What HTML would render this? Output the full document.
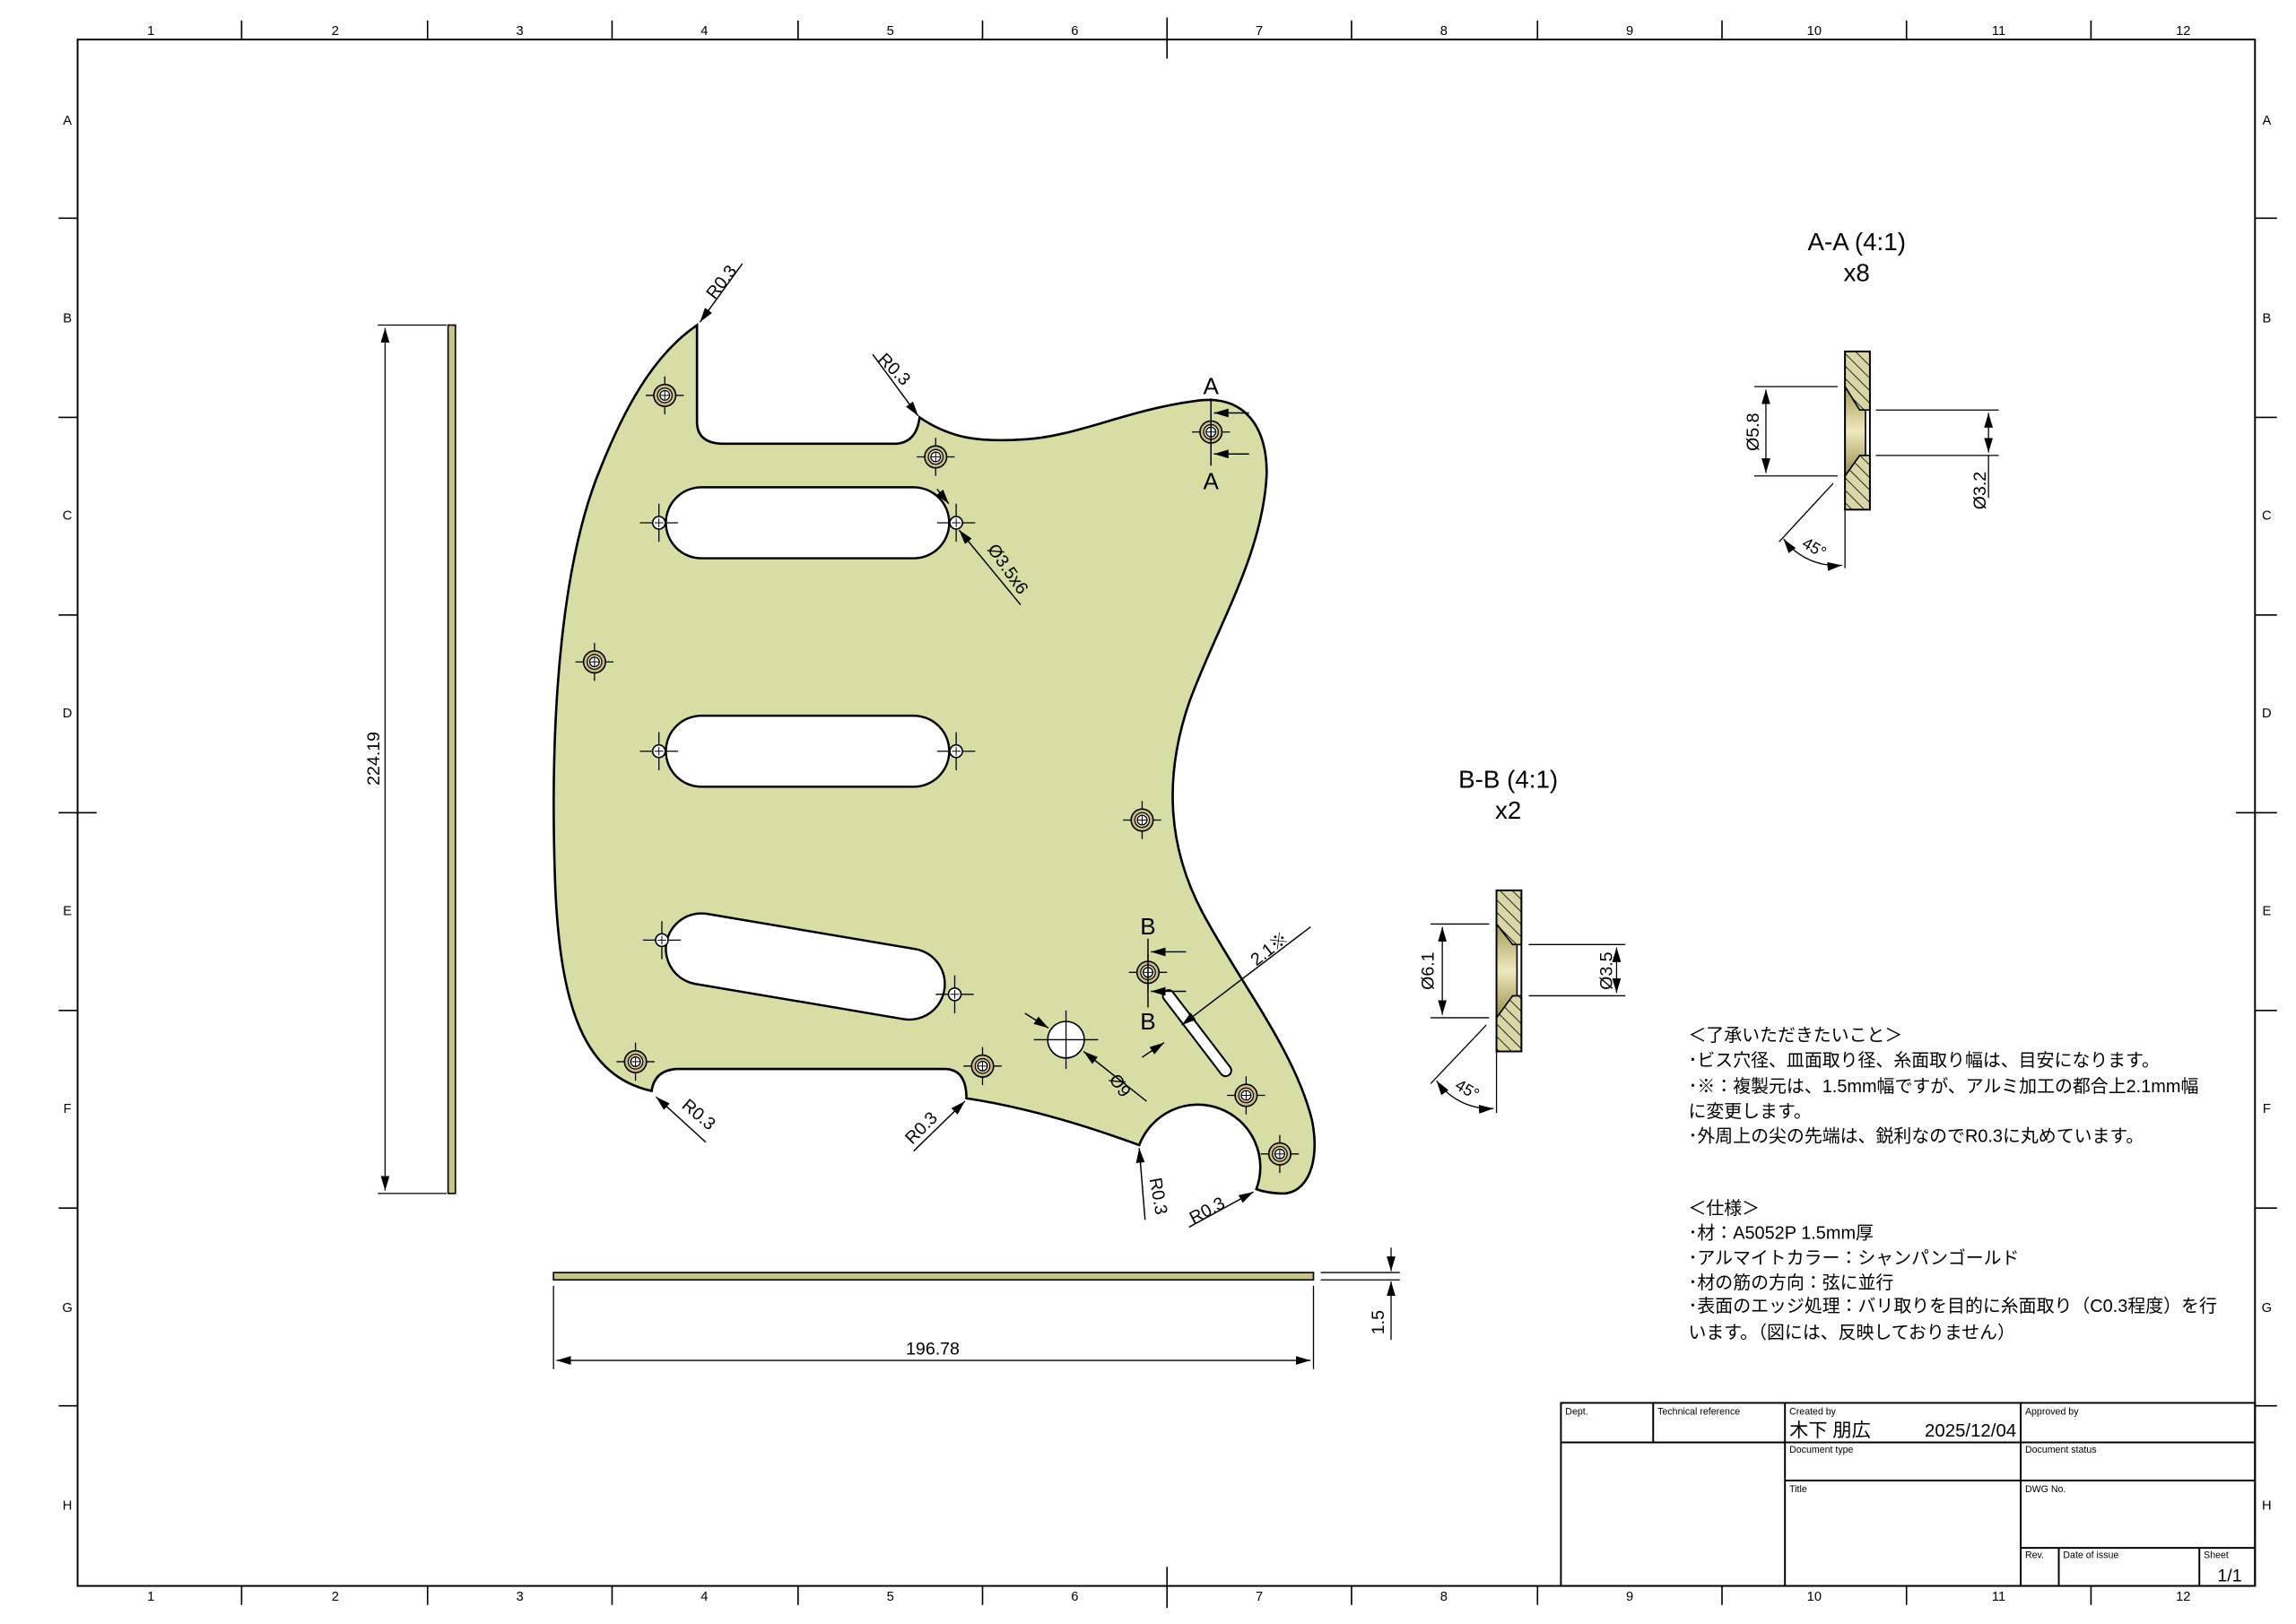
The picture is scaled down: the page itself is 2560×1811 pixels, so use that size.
<!DOCTYPE html>
<html><head><meta charset="utf-8"><style>
html,body{margin:0;padding:0;background:#fff;}
svg{display:block;}
text{font-family:"Liberation Sans","Noto Sans CJK JP",sans-serif;fill:#000;}
</style></head><body>
<svg width="2560" height="1811" viewBox="0 0 1568 1109" preserveAspectRatio="none" xmlns="http://www.w3.org/2000/svg">
<defs>
<pattern id="hat" patternUnits="userSpaceOnUse" width="6" height="6" patternTransform="rotate(-45)">
<rect width="6" height="6" fill="#d9d6a8"/><line x1="0" y1="0" x2="0" y2="6" stroke="#000" stroke-width="1"/></pattern>
<linearGradient id="gold" x1="0" y1="0" x2="0" y2="1"><stop offset="0" stop-color="#a89a55"/><stop offset="0.5" stop-color="#eeeac0"/><stop offset="1" stop-color="#9a8c48"/></linearGradient>
<marker id="ar" markerWidth="10" markerHeight="6" refX="10" refY="3" orient="auto-start-reverse" markerUnits="userSpaceOnUse"><path d="M0,0 L10,3 L0,6 z" fill="#000"/></marker>
<g id="mh"><line x1="-13" y1="0" x2="13" y2="0" stroke="#000" stroke-width="0.8"/><line x1="0" y1="-13" x2="0" y2="13" stroke="#000" stroke-width="0.8"/><circle r="7.5" fill="#cbbd80" stroke="#000" stroke-width="1"/><circle r="5" fill="#ece6c0" stroke="#000" stroke-width="0.8"/><circle r="3.3" fill="#fff" stroke="#000" stroke-width="0.8"/><line x1="-3" y1="0" x2="3" y2="0" stroke="#000" stroke-width="0.6"/><line x1="0" y1="-3" x2="0" y2="3" stroke="#000" stroke-width="0.6"/></g>
<g id="sh"><line x1="-13" y1="0" x2="13" y2="0" stroke="#000" stroke-width="0.8"/><line x1="0" y1="-13" x2="0" y2="13" stroke="#000" stroke-width="0.8"/><circle r="4.3" fill="#fff" stroke="#000" stroke-width="1"/><line x1="-3" y1="0" x2="3" y2="0" stroke="#000" stroke-width="0.6"/><line x1="0" y1="-3" x2="0" y2="3" stroke="#000" stroke-width="0.6"/></g>
</defs>

<rect x="53" y="27" width="1487" height="1056" fill="none" stroke="#000" stroke-width="1.2"/>
<g stroke="#000" stroke-width="1">
<line x1="165" y1="14" x2="165" y2="27"/><line x1="292" y1="14" x2="292" y2="27"/><line x1="418" y1="14" x2="418" y2="27"/><line x1="545" y1="14" x2="545" y2="27"/><line x1="671" y1="14" x2="671" y2="27"/><line x1="797" y1="12" x2="797" y2="40"/><line x1="923" y1="14" x2="923" y2="27"/><line x1="1050" y1="14" x2="1050" y2="27"/><line x1="1176" y1="14" x2="1176" y2="27"/><line x1="1302" y1="14" x2="1302" y2="27"/><line x1="1428" y1="14" x2="1428" y2="27"/>
<line x1="165" y1="1083" x2="165" y2="1096"/><line x1="292" y1="1083" x2="292" y2="1096"/><line x1="418" y1="1083" x2="418" y2="1096"/><line x1="545" y1="1083" x2="545" y2="1096"/><line x1="671" y1="1083" x2="671" y2="1096"/><line x1="797" y1="1070" x2="797" y2="1098"/><line x1="923" y1="1083" x2="923" y2="1096"/><line x1="1050" y1="1083" x2="1050" y2="1096"/><line x1="1176" y1="1083" x2="1176" y2="1096"/><line x1="1302" y1="1083" x2="1302" y2="1096"/><line x1="1428" y1="1083" x2="1428" y2="1096"/>
<line x1="40" y1="149" x2="53" y2="149"/><line x1="40" y1="285" x2="53" y2="285"/><line x1="40" y1="420" x2="53" y2="420"/><line x1="40" y1="555" x2="66" y2="555"/><line x1="40" y1="690" x2="53" y2="690"/><line x1="40" y1="825" x2="53" y2="825"/><line x1="40" y1="960" x2="53" y2="960"/>
<line x1="1540" y1="149" x2="1555" y2="149"/><line x1="1540" y1="285" x2="1555" y2="285"/><line x1="1540" y1="420" x2="1555" y2="420"/><line x1="1527" y1="555" x2="1555" y2="555"/><line x1="1540" y1="690" x2="1555" y2="690"/><line x1="1540" y1="825" x2="1555" y2="825"/><line x1="1540" y1="960" x2="1555" y2="960"/>
</g>
<g font-size="9" text-anchor="middle">
<text x="103" y="24">1</text><text x="229" y="24">2</text><text x="355" y="24">3</text><text x="481" y="24">4</text><text x="608" y="24">5</text><text x="734" y="24">6</text><text x="860" y="24">7</text><text x="986" y="24">8</text><text x="1113" y="24">9</text><text x="1239" y="24">10</text><text x="1365" y="24">11</text><text x="1491" y="24">12</text>
<text x="103" y="1093">1</text><text x="229" y="1093">2</text><text x="355" y="1093">3</text><text x="481" y="1093">4</text><text x="608" y="1093">5</text><text x="734" y="1093">6</text><text x="860" y="1093">7</text><text x="986" y="1093">8</text><text x="1113" y="1093">9</text><text x="1239" y="1093">10</text><text x="1365" y="1093">11</text><text x="1491" y="1093">12</text>
<text x="46" y="85">A</text><text x="46" y="220">B</text><text x="46" y="355">C</text><text x="46" y="490">D</text><text x="46" y="625">E</text><text x="46" y="760">F</text><text x="46" y="896">G</text><text x="46" y="1031">H</text>
<text x="1548" y="85">A</text><text x="1548" y="220">B</text><text x="1548" y="355">C</text><text x="1548" y="490">D</text><text x="1548" y="625">E</text><text x="1548" y="760">F</text><text x="1548" y="896">G</text><text x="1548" y="1031">H</text>
</g>

<path d="M476,222 L476,288 Q476,302 492,303 L612,303 Q626,302 628,285 C650,300 670,302 700,300 C735,298 770,280 815,274 C850,268 866,292 865,325 C862,380 830,430 812,480 C795,530 796,580 825,630 C850,675 885,720 896,765 C902,795 892,815 876,815 C865,815 858,812 858,812 A42,42 0 0 0 778,782 C740,768 700,756 660,750 Q660,730 645,730 L462,730 Q447,731 445,745 C400,735 382,690 379,600 C375,480 385,380 410,320 C430,270 450,240 476,222 Z" fill="#d6dea6" stroke="#000" stroke-width="1.6"/>
<g stroke-linecap="round">
<line x1="479" y1="357" x2="624" y2="357" stroke="#000" stroke-width="50"/><line x1="479" y1="357" x2="624" y2="357" stroke="#fff" stroke-width="47"/>
<line x1="479" y1="513" x2="624" y2="513" stroke="#000" stroke-width="50"/><line x1="479" y1="513" x2="624" y2="513" stroke="#fff" stroke-width="47"/>
<line x1="479" y1="648" x2="621" y2="672" stroke="#000" stroke-width="50"/><line x1="479" y1="648" x2="621" y2="672" stroke="#fff" stroke-width="47"/>
<line x1="798" y1="680" x2="837" y2="731" stroke="#000" stroke-width="9"/><line x1="798" y1="680" x2="837" y2="731" stroke="#fff" stroke-width="6.5"/>
</g>
<use href="#sh" x="450" y="357"/><use href="#sh" x="653" y="357"/><use href="#sh" x="450" y="513"/><use href="#sh" x="653" y="513"/><use href="#sh" x="452" y="642"/><use href="#sh" x="652" y="679"/>
<use href="#mh" x="454" y="270"/><use href="#mh" x="639" y="312"/><use href="#mh" x="827" y="295"/><use href="#mh" x="406" y="452"/><use href="#mh" x="780" y="560"/><use href="#mh" x="784" y="664"/><use href="#mh" x="434" y="725"/><use href="#mh" x="671" y="728"/><use href="#mh" x="851" y="748"/><use href="#mh" x="874" y="788"/>
<circle cx="728" cy="710" r="12.5" fill="#fff" stroke="#000" stroke-width="1"/>
<g stroke="#000" stroke-width="0.8"><line x1="706" y1="710" x2="750" y2="710"/><line x1="728" y1="690" x2="728" y2="730"/></g>

<g stroke="#000" stroke-width="0.9" fill="none">
<line x1="507" y1="180" x2="478" y2="220" marker-end="url(#ar)"/>
<line x1="596" y1="242" x2="627" y2="284" marker-end="url(#ar)"/>
<line x1="697" y1="413" x2="655" y2="362" marker-end="url(#ar)"/>
<line x1="640" y1="334" x2="648" y2="344" marker-end="url(#ar)"/>
<line x1="783" y1="752" x2="740" y2="718" marker-end="url(#ar)"/>
<line x1="700" y1="692" x2="716" y2="702" marker-end="url(#ar)"/>
<line x1="895" y1="633" x2="807" y2="700" marker-end="url(#ar)"/>
<line x1="780" y1="722" x2="795" y2="712" marker-end="url(#ar)"/>
<line x1="482" y1="780" x2="448" y2="749" marker-end="url(#ar)"/>
<line x1="624" y1="786" x2="659" y2="752" marker-end="url(#ar)"/>
<line x1="782" y1="833" x2="778" y2="784" marker-end="url(#ar)"/>
<line x1="812" y1="838" x2="856" y2="814" marker-end="url(#ar)"/>
<line x1="827" y1="272" x2="827" y2="318"/><line x1="853" y1="282" x2="829" y2="282" marker-end="url(#ar)"/><line x1="853" y1="310" x2="829" y2="310" marker-end="url(#ar)"/>
<line x1="784" y1="641" x2="784" y2="688"/><line x1="810" y1="650" x2="786" y2="650" marker-end="url(#ar)"/><line x1="810" y1="677" x2="786" y2="677" marker-end="url(#ar)"/>
</g>
<g font-size="12">
<text transform="translate(488,205) rotate(-52)">R0.3</text>
<text transform="translate(599,246) rotate(45)">R0.3</text>
<text transform="translate(674,375) rotate(55)">Ø3.5x6</text>
<text transform="translate(757,737) rotate(55)">Ø9</text>
<text transform="translate(858,660) rotate(-38)">2.1※</text>
<text transform="translate(465,756) rotate(40)">R0.3</text>
<text transform="translate(623,782) rotate(-45)">R0.3</text>
<text transform="translate(785,805) rotate(80)">R0.3</text>
<text transform="translate(815,836) rotate(-28)">R0.3</text>
</g>
<g font-size="16" text-anchor="middle"><text x="827" y="269">A</text><text x="827" y="334">A</text><text x="784" y="638">B</text><text x="784" y="703">B</text></g>

<rect x="306" y="222" width="5" height="593" fill="#c9c48a" stroke="#000" stroke-width="1"/>
<g stroke="#000" stroke-width="0.8"><line x1="258" y1="222" x2="305" y2="222"/><line x1="258" y1="815" x2="305" y2="815"/>
<line x1="263" y1="224" x2="263" y2="813" marker-start="url(#ar)" marker-end="url(#ar)"/></g>
<text font-size="12" text-anchor="middle" transform="translate(259,518) rotate(-90)">224.19</text>
<rect x="378" y="869" width="519" height="5" fill="#c9c48a" stroke="#000" stroke-width="1"/>
<g stroke="#000" stroke-width="0.8"><line x1="378" y1="878" x2="378" y2="935"/><line x1="897" y1="878" x2="897" y2="935"/>
<line x1="380" y1="929" x2="895" y2="929" marker-start="url(#ar)" marker-end="url(#ar)"/>
<line x1="902" y1="869" x2="956" y2="869"/><line x1="902" y1="874" x2="956" y2="874"/>
<line x1="950" y1="852" x2="950" y2="868" marker-end="url(#ar)"/><line x1="950" y1="915" x2="950" y2="875" marker-end="url(#ar)"/></g>
<text x="637" y="925" font-size="12" text-anchor="middle">196.78</text>
<text font-size="12" text-anchor="middle" transform="translate(945,903) rotate(-90)">1.5</text>

<text x="1268" y="171" font-size="17" text-anchor="middle">A-A (4:1)</text>
<text x="1268" y="192" font-size="17" text-anchor="middle">x8</text>
<polygon points="1260,240 1277,240 1277,280 1270,280 1260,264" fill="url(#hat)" stroke="#000" stroke-width="1"/>
<polygon points="1260,325 1270,311 1277,311 1277,348 1260,348" fill="url(#hat)" stroke="#000" stroke-width="1"/>
<polygon points="1260,264 1270,280 1274,280 1274,311 1270,311 1260,325" fill="url(#gold)" stroke="#000" stroke-width="1"/>
<rect x="1260" y="240" width="17" height="108" fill="none" stroke="#000" stroke-width="1.2"/>
<g stroke="#000" stroke-width="0.8" fill="none">
<line x1="1198" y1="264" x2="1255" y2="264"/><line x1="1198" y1="325" x2="1255" y2="325"/>
<line x1="1206" y1="266" x2="1206" y2="323" marker-start="url(#ar)" marker-end="url(#ar)"/>
<line x1="1281" y1="280" x2="1365" y2="280"/><line x1="1281" y1="311" x2="1365" y2="311"/>
<line x1="1358" y1="282" x2="1358" y2="309" marker-start="url(#ar)" marker-end="url(#ar)"/><line x1="1358" y1="311" x2="1358" y2="340"/>
<line x1="1260" y1="348" x2="1260" y2="388"/><line x1="1252" y1="330" x2="1215" y2="370"/>
<path d="M1218,368 A45,45 0 0 0 1258,386" marker-start="url(#ar)" marker-end="url(#ar)"/>
</g>
<text font-size="12" text-anchor="middle" transform="translate(1201,295) rotate(-90)">Ø5.8</text>
<text font-size="12" text-anchor="middle" transform="translate(1356,335) rotate(-90)">Ø3.2</text>
<text font-size="11" transform="translate(1230,373) rotate(30)">45°</text>

<text x="1030" y="538" font-size="17" text-anchor="middle">B-B (4:1)</text>
<text x="1030" y="559" font-size="17" text-anchor="middle">x2</text>
<polygon points="1022,608 1039,608 1039,645 1033,645 1022,631" fill="url(#hat)" stroke="#000" stroke-width="1"/>
<polygon points="1022,695 1033,680 1039,680 1039,718 1022,718" fill="url(#hat)" stroke="#000" stroke-width="1"/>
<polygon points="1022,631 1033,645 1036,645 1036,680 1033,680 1022,695" fill="url(#gold)" stroke="#000" stroke-width="1"/>
<rect x="1022" y="608" width="17" height="110" fill="none" stroke="#000" stroke-width="1.2"/>
<g stroke="#000" stroke-width="0.8" fill="none">
<line x1="977" y1="631" x2="1017" y2="631"/><line x1="977" y1="695" x2="1017" y2="695"/>
<line x1="985" y1="633" x2="985" y2="693" marker-start="url(#ar)" marker-end="url(#ar)"/>
<line x1="1044" y1="645" x2="1110" y2="645"/><line x1="1044" y1="680" x2="1110" y2="680"/>
<line x1="1104" y1="647" x2="1104" y2="678" marker-start="url(#ar)" marker-end="url(#ar)"/>
<line x1="1022" y1="718" x2="1022" y2="760"/><line x1="1015" y1="700" x2="977" y2="740"/>
<path d="M981,738 A45,45 0 0 0 1020,757" marker-start="url(#ar)" marker-end="url(#ar)"/>
</g>
<text font-size="12" text-anchor="middle" transform="translate(979,663) rotate(-90)">Ø6.1</text>
<text font-size="12" text-anchor="middle" transform="translate(1101,663) rotate(-90)">Ø3.5</text>
<text font-size="11" transform="translate(993,743) rotate(30)">45°</text>

<g font-size="12.2">
<text x="1153" y="711">＜了承いただきたいこと＞</text>
<text x="1153" y="728">･ビス穴径、皿面取り径、糸面取り幅は、目安になります。</text>
<text x="1153" y="746">･※：複製元は、1.5mm幅ですが、アルミ加工の都合上2.1mm幅</text>
<text x="1153" y="763">に変更します。</text>
<text x="1153" y="780">･外周上の尖の先端は、鋭利なのでR0.3に丸めています。</text>
<text x="1153" y="829">＜仕様＞</text>
<text x="1153" y="846">･材：A5052P 1.5mm厚</text>
<text x="1153" y="863">･アルマイトカラー：シャンパンゴールド</text>
<text x="1153" y="880">･材の筋の方向：弦に並行</text>
<text x="1153" y="896">･表面のエッジ処理：バリ取りを目的に糸面取り（C0.3程度）を行</text>
<text x="1153" y="914">います。（図には、反映しておりません）</text>
</g>

<g stroke="#000" stroke-width="1.2" fill="none">
<rect x="1066" y="958" width="474" height="125"/>
<line x1="1066" y1="985" x2="1540" y2="985"/>
<line x1="1129" y1="958" x2="1129" y2="985"/>
<line x1="1219" y1="958" x2="1219" y2="1083"/>
<line x1="1380" y1="958" x2="1380" y2="1083"/>
<line x1="1219" y1="1011" x2="1540" y2="1011"/>
<line x1="1380" y1="1057" x2="1540" y2="1057"/>
<line x1="1406" y1="1057" x2="1406" y2="1083"/>
<line x1="1502" y1="1057" x2="1502" y2="1083"/>
</g>
<g font-size="6.5">
<text x="1069" y="966">Dept.</text><text x="1132" y="966">Technical reference</text><text x="1222" y="966">Created by</text><text x="1383" y="966">Approved by</text>
<text x="1222" y="992">Document type</text><text x="1383" y="992">Document status</text>
<text x="1222" y="1019">Title</text><text x="1383" y="1019">DWG No.</text>
<text x="1383" y="1064">Rev.</text><text x="1409" y="1064">Date of issue</text><text x="1505" y="1064">Sheet</text>
</g>
<text x="1222" y="981" font-size="13">木下 朋広</text>
<text x="1377" y="981" font-size="12.5" text-anchor="end">2025/12/04</text>
<text x="1531" y="1080" font-size="12" text-anchor="end">1/1</text>
</svg>
</body></html>
